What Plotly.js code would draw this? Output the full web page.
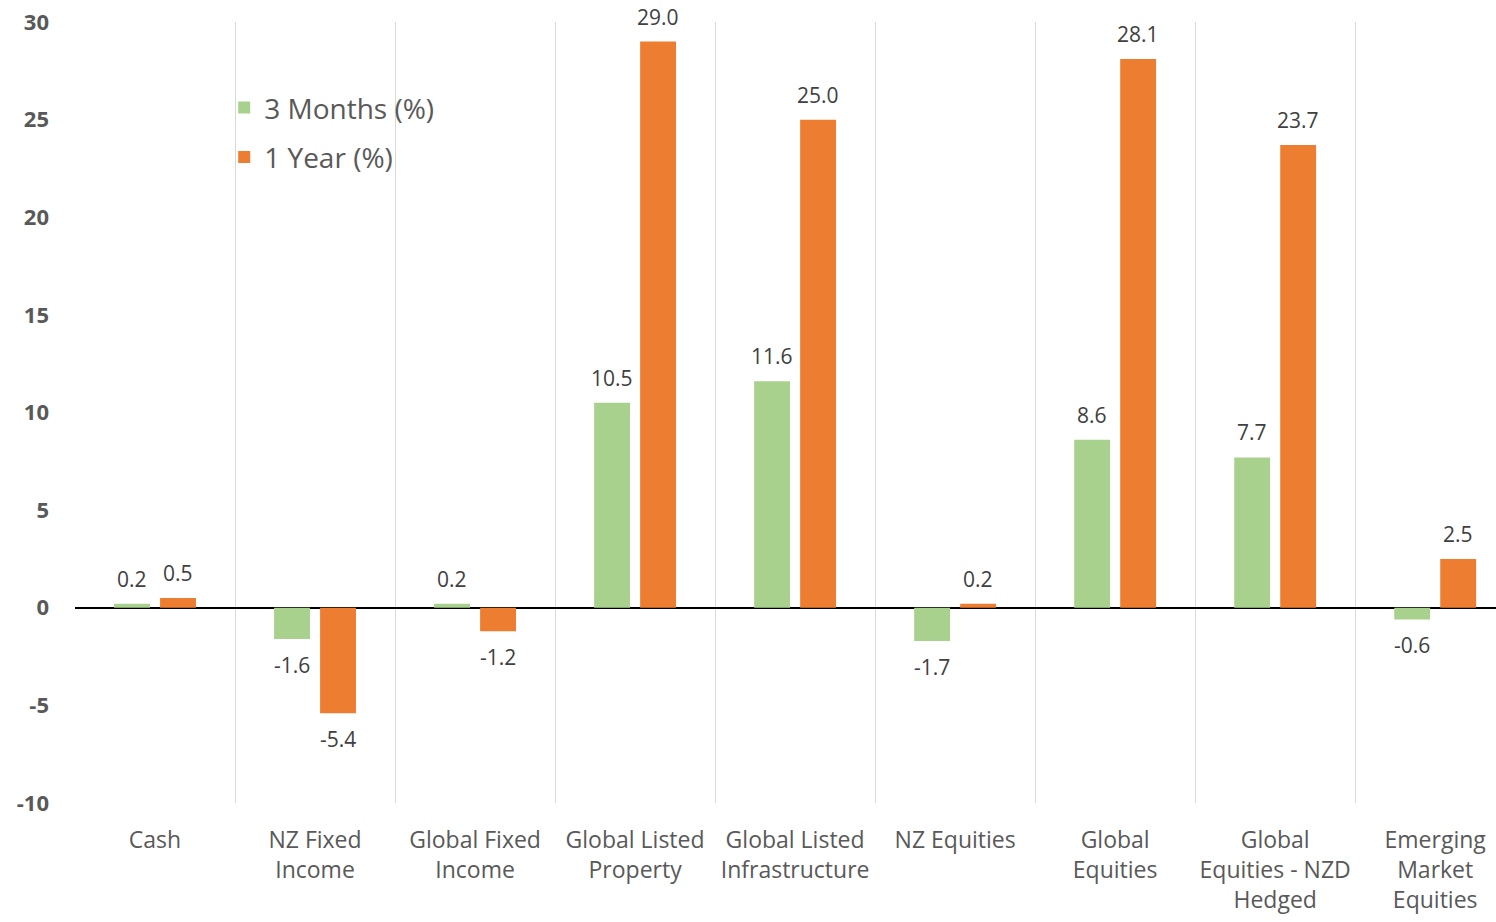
<!DOCTYPE html>
<html>
<head>
<meta charset="utf-8">
<script src="https://cdn.plot.ly/plotly-3.0.1.min.js"></script>
<style>html,body{margin:0;padding:0;background:#fff;}#chart{width:1496px;height:922px;}</style>
</head>
<body>
<div id="chart"></div>
<script>
const categories = ["Cash", "NZ Fixed<br>Income", "Global Fixed<br>Income", "Global Listed<br>Property", "Global Listed<br>Infrastructure", "NZ Equities", "Global<br>Equities", "Global<br>Equities - NZD<br>Hedged", "Emerging<br>Market<br>Equities"];
const threeMonths = [0.2, -1.6, 0.2, 10.5, 11.6, -1.7, 8.6, 7.7, -0.6];
const oneYear = [0.5, -5.4, -1.2, 29.0, 25.0, 0.2, 28.1, 23.7, 2.5];
const yTicks = [-10, -5, 0, 5, 10, 15, 20, 25, 30];

const FONT = "Segoe UI, Open Sans, Noto Sans, sans-serif";
const labelFont = {family: FONT, size: 21, color: "#404040"};

const traces = [
  {type: "bar", name: "3 Months (%)", x: categories, y: threeMonths,
   marker: {color: "#A9D18E"}, legendgroup: "a"},
  {type: "bar", name: "1 Year (%)", x: categories, y: oneYear,
   marker: {color: "#ED7D31"}, legendgroup: "b"}
];

// data labels, placed from the same values through the axis scales
const annotations = [];
[[threeMonths, -23], [oneYear, 23]].forEach(([vals, dx]) => {
  vals.forEach((v, i) => {
    annotations.push({x: categories[i], y: v, xref: "x", yref: "y",
      text: v.toFixed(1), showarrow: false, xshift: dx,
      yshift: v >= 0 ? 25 : -26, yanchor: "middle",
      font: labelFont});
  });
});

const layout = {
  width: 1496, height: 922,
  margin: {l: 75, r: 0, t: 22, b: 119},
  paper_bgcolor: "#fff", plot_bgcolor: "#fff",
  barmode: "group", bargap: 0.425, bargroupgap: 0.22,
  showlegend: true,
  legend: {x: 0.105, y: 0.922, xanchor: "left", yanchor: "top",
    font: {family: FONT, size: 28, color: "#595959"}, tracegroupgap: 10,
    bgcolor: "rgba(0,0,0,0)"},
  xaxis: {type: "category", range: [-0.5, 8.38], tickson: "boundaries",
    showgrid: true, gridcolor: "#d9d9d9", gridwidth: 1, ticks: "",
    showline: false, zeroline: false, fixedrange: true, tickangle: 0,
    tickfont: {family: FONT, size: 23, color: "#595959"}, ticklabelstandoff: 21},
  yaxis: {range: [-10, 30], tickvals: yTicks, ticktext: yTicks.map(String),
    showgrid: false, zeroline: true, zerolinecolor: "#000", zerolinewidth: 1.5,
    showline: false, ticks: "", ticklabelstandoff: 25,
    tickfont: {family: FONT, size: 22, color: "#595959", weight: "bold"}},
  annotations: annotations
};

Plotly.newPlot("chart", traces, layout, {displayModeBar: false, staticPlot: true});
</script>
</body>
</html>
